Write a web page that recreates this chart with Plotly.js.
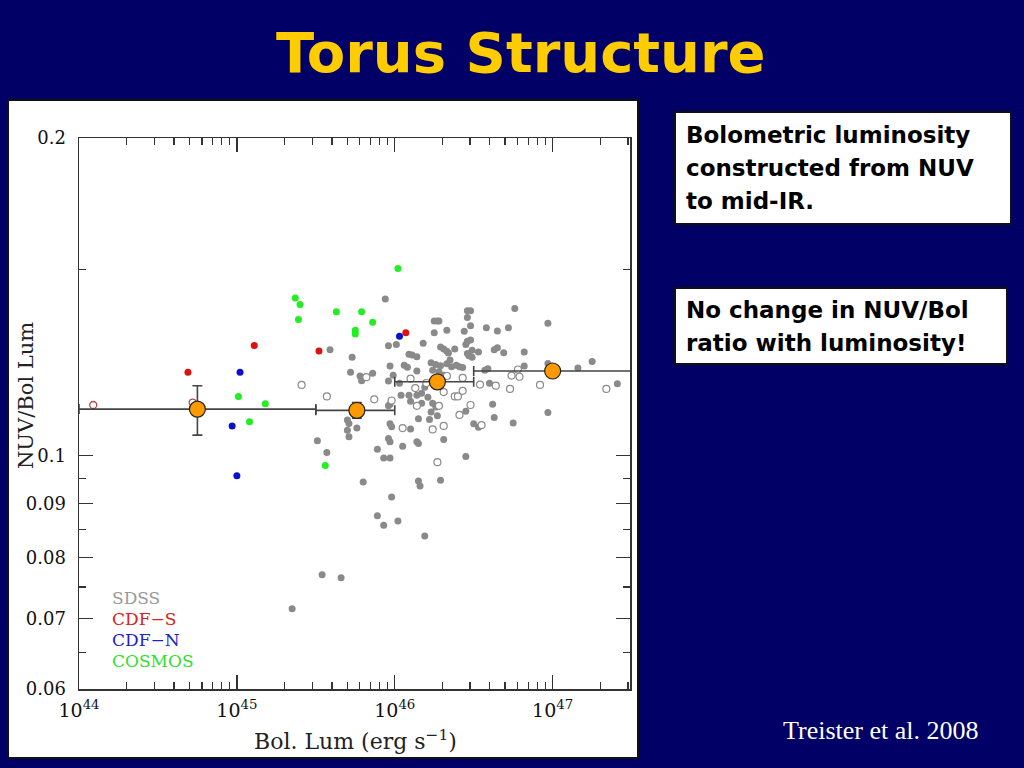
<!DOCTYPE html>
<html>
<head>
<meta charset="utf-8">
<script src="https://cdn.plot.ly/plotly-3.0.1.min.js"></script>
<style>
html,body{margin:0;padding:0;background:#000066;}
#chart{width:1024px;height:768px;}
</style>
</head>
<body>
<div id="chart"></div>
<script>
// ---- Data (x values are log10 of Bol. Lum in erg/s) ----
const sdssLogL = [45.94,45.59,45.73,45.72,45.78,45.79,45.86,45.96,46.01,45.97,45.99,45.96,46.03,46.06,46.08,46.09,46.11,46.14,46.14,46.18,
  46.25,46.25,46.27,46.28,46.33,46.29,46.31,46.33,46.34,46.38,46.45,46.46,46.48,46.44,46.48,46.46,46.46,46.48,46.46,46.47,
  46.49,46.49,46.53,46.58,46.65,46.72,46.76,46.97,46.63,46.65,46.69,46.82,46.82,46.57,46.59,46.97,47.16,47.25,47.41,46.60,
  46.62,46.63,46.75,46.97,46.50,46.53,46.45,46.45,46.29,46.31,46.22,46.15,46.24,46.26,46.27,46.23,46.17,46.10,46.04,46.10,
  46.14,46.15,46.05,45.97,45.98,45.96,45.97,45.89,45.93,45.97,46.15,46.16,45.98,45.80,45.89,45.93,46.02,46.19,45.51,45.57,
  45.70,45.71,45.70,45.71,45.76,45.96,45.97,45.54,45.66,45.35,46.09,46.14,46.43,46.23,46.26,46.29,46.33,46.36,46.39,46.41,
  46.35,46.24,46.28,46.31,46.17,46.21,46.19];
const sdssRatio = [0.1407,0.1259,0.1239,0.1199,0.1189,0.1177,0.1196,0.1270,0.1274,0.1215,0.1191,0.1176,0.1170,0.1217,0.1212,0.1247,0.1245,0.1240,0.1202,0.1277,
  0.1307,0.1341,0.1341,0.1341,0.1314,0.1267,0.1261,0.1255,0.1250,0.1261,0.1274,0.1283,0.1286,0.1311,0.1327,0.1351,0.1371,0.1371,0.1249,0.1243,
  0.1258,0.1239,0.1253,0.1321,0.1312,0.1321,0.1378,0.1334,0.1259,0.1265,0.1251,0.1253,0.1215,0.1204,0.1208,0.1222,0.1210,0.1227,0.1169,0.1170,
  0.1118,0.1086,0.1073,0.1098,0.1071,0.1063,0.1101,0.0997,0.0947,0.1035,0.1081,0.1083,0.1120,0.1111,0.1090,0.1099,0.1120,0.1125,0.1140,0.1059,
  0.1030,0.1026,0.1020,0.1071,0.1064,0.1037,0.1030,0.1013,0.0994,0.0994,0.0945,0.0935,0.0913,0.0943,0.0876,0.0858,0.0866,0.0838,0.1032,0.1006,
  0.1080,0.1072,0.1056,0.1041,0.1061,0.1114,0.1118,0.0770,0.0765,0.0715,0.1140,0.1140,0.1211,0.1224,0.1219,0.1216,0.1221,0.1213,0.1217,0.1213,
  0.1231,0.1204,0.1200,0.1191,0.1145,0.1135,0.1160];

const sdssOpenLogL = [45.41,45.57,45.82,45.87,45.98,46.05,46.10,46.13,46.14,46.24,46.28,46.31,46.31,46.38,46.40,46.43,46.41,46.48,46.43,46.33,
  46.27,46.54,46.64,46.73,46.74,46.79,46.78,46.92,47.34,46.55,46.20];
const sdssOpenRatio = [0.1166,0.1137,0.1186,0.1130,0.1127,0.1061,0.1182,0.1158,0.1114,0.1058,0.1114,0.1148,0.1066,0.1137,0.1137,0.1151,0.1092,0.1116,0.1184,0.1189,
  0.0985,0.1167,0.1164,0.1156,0.1190,0.1187,0.1206,0.1166,0.1156,0.1068,0.1171];

const cdfsLogL = [44.69,45.11,45.52,46.07];
const cdfsRatio = [0.1199,0.1271,0.1256,0.1307];
const cdfsOpenLogL = [44.09,44.72];
const cdfsOpenRatio = [0.1116,0.1122];

const cdfnLogL = [45.02,44.97,45.00,46.03];
const cdfnRatio = [0.1199,0.1066,0.0956,0.1297];

const cosmosLogL = [45.01,45.18,45.08,46.02,45.37,45.40,45.39,45.63,45.79,45.86,45.75,45.75,45.56];
const cosmosRatio = [0.1137,0.1119,0.1076,0.1504,0.1410,0.1390,0.1345,0.1368,0.1368,0.1337,0.1314,0.1303,0.0978];

// binned averages (orange)
const binLogL = [44.75,45.76,46.27,47.00];
const binRatio = [0.1106,0.1103,0.1174,0.1202];
const binLoLogL = [44.0,45.5,46.0,46.5];
const binHiLogL = [45.5,46.0,46.5,47.6];
const binErrUp = [0.0058,0.0019,0.0010,0.0010];
const binErrDown = [0.0061,0.0019,0.0010,0.0010];

// tick labels
const xTickVals = [1e44,1e45,1e46,1e47];
const xTickText = ['10<sup>44</sup>','10<sup>45</sup>','10<sup>46</sup>','10<sup>47</sup>'];
const xMinorVals = [2e44,3e44,4e44,5e44,6e44,7e44,8e44,9e44,2e45,3e45,4e45,5e45,6e45,7e45,8e45,9e45,
  2e46,3e46,4e46,5e46,6e46,7e46,8e46,9e46,2e47,3e47];
const yTickVals = [0.06,0.07,0.08,0.09,0.1,0.2];
const yTickText = ['0.06','0.07','0.08','0.09','0.1','0.2'];
const yMinorVals = [0.065,0.075,0.085,0.095,0.15];

const legendNames = ['SDSS','CDF\u2212S','CDF\u2212N','COSMOS'];
const legendColors = ['#9a9a9a','#dd2020','#2020cc','#30e030'];

// ---- build traces ----
const p10 = a => a.map(v => Math.pow(10, v));

const traces = [
  {x:p10(sdssLogL), y:sdssRatio, type:'scatter', mode:'markers',
   marker:{size:7, color:'#8a8a8a', line:{width:0}}},
  {x:p10(sdssOpenLogL), y:sdssOpenRatio, type:'scatter', mode:'markers',
   marker:{size:7, color:'#ffffff', line:{width:1.2, color:'#8a8a8a'}}},
  {x:p10(cdfsOpenLogL), y:cdfsOpenRatio, type:'scatter', mode:'markers',
   marker:{size:7, color:'#ffffff', line:{width:1.3, color:'#b84848'}}},
  {x:p10(cosmosLogL), y:cosmosRatio, type:'scatter', mode:'markers',
   marker:{size:7, color:'#22ee22', line:{width:0}}},
  {x:p10(cdfsLogL), y:cdfsRatio, type:'scatter', mode:'markers',
   marker:{size:7, color:'#e01010', line:{width:0}}},
  {x:p10(cdfnLogL), y:cdfnRatio, type:'scatter', mode:'markers',
   marker:{size:7, color:'#0a10cc', line:{width:0}}}
];

const bx = p10(binLogL), lo = p10(binLoLogL), hi = p10(binHiLogL);
traces.push({
  x: bx, y: binRatio, type:'scatter', mode:'markers',
  marker:{size:16, color:'#ff9900', line:{width:1.2, color:'#222'}},
  error_x:{type:'data', symmetric:false,
    array: bx.map((v,i)=>hi[i]-v), arrayminus: bx.map((v,i)=>v-lo[i]),
    color:'#444', thickness:1.6, width:5},
  error_y:{type:'data', symmetric:false, array: binErrUp, arrayminus: binErrDown,
    color:'#444', thickness:1.6, width:5}
});

// ---- layout helpers (pixel -> paper) ----
const L = 79, R = 630, T = 138, B = 689;
const W = R - L, H = B - T;
const px = v => (v - L) / W;
const py = v => (B - v) / H;

const ann = [];
// title
ann.push({x:px(521), y:py(53), xref:'paper', yref:'paper', text:'Torus Structure', showarrow:false,
  xanchor:'center', yanchor:'middle', font:{family:'DejaVu Sans', size:56, color:'#ffcc00', weight:'bold'}});

// text boxes
const box1 = ['Bolometric luminosity','constructed from NUV','to mid-IR.'];
const box2 = ['No change in NUV/Bol','ratio with luminosity!'];
box1.forEach((t,i)=>ann.push({x:px(684), y:py(135 + i*33), xref:'paper', yref:'paper', text:t, showarrow:false,
  xanchor:'left', yanchor:'middle', font:{family:'DejaVu Sans', size:23, color:'#000', weight:'bold'}}));
box2.forEach((t,i)=>ann.push({x:px(684), y:py(310 + i*33), xref:'paper', yref:'paper', text:t, showarrow:false,
  xanchor:'left', yanchor:'middle', font:{family:'DejaVu Sans', size:23, color:'#000', weight:'bold'}}));

// citation
ann.push({x:px(880), y:py(730), xref:'paper', yref:'paper', text:'Treister et al. 2008', showarrow:false,
  xanchor:'center', yanchor:'middle', font:{family:'Liberation Serif', size:26, color:'#ffffff'}});

// in-plot legend text
legendNames.forEach((t,i)=>ann.push({x:px(110), y:py(598 + i*21), xref:'paper', yref:'paper', text:t, showarrow:false,
  xanchor:'left', yanchor:'middle', font:{family:'DejaVu Serif', size:17, color:legendColors[i]}}));

// axis titles
ann.push({x:px(355), y:py(740), xref:'paper', yref:'paper', text:'Bol. Lum (erg s<sup>\u22121</sup>)', showarrow:false,
  xanchor:'center', yanchor:'middle', font:{family:'DejaVu Serif', size:22, color:'#222'}});
ann.push({x:px(26), y:py(396), xref:'paper', yref:'paper', text:'NUV/Bol Lum', showarrow:false, textangle:-90,
  xanchor:'center', yanchor:'middle', font:{family:'DejaVu Serif', size:21, color:'#222'}});

const shapes = [
  {type:'rect', xref:'paper', yref:'paper', x0:px(8), x1:px(638), y0:py(100), y1:py(758),
   fillcolor:'#ffffff', line:{color:'#111', width:2}, layer:'below'},
  {type:'rect', xref:'paper', yref:'paper', x0:px(675), x1:px(1011), y0:py(112), y1:py(224),
   fillcolor:'#ffffff', line:{color:'#111', width:2}, layer:'below'},
  {type:'rect', xref:'paper', yref:'paper', x0:px(675), x1:px(1007), y0:py(288), y1:py(364),
   fillcolor:'#ffffff', line:{color:'#111', width:2}, layer:'below'}
];

const axisCommon = {
  ticks:'inside', ticklen:14, tickwidth:1.3, tickcolor:'#333',
  showline:true, linecolor:'#333', linewidth:1.5, mirror:'allticks',
  showgrid:false, zeroline:false, tickmode:'array', fixedrange:true
};

const layout = {
  width:1024, height:768,
  margin:{l:L, r:1024-R, t:T, b:768-B, pad:0},
  paper_bgcolor:'#000066', plot_bgcolor:'#ffffff',
  showlegend:false,
  xaxis:Object.assign({}, axisCommon, {
    type:'log', range:[44, 47.49], tickvals:xTickVals, ticktext:xTickText,
    tickfont:{family:'DejaVu Serif', size:19, color:'#111'}, ticklabelstandoff:4,
    minor:{tickvals:xMinorVals, ticks:'inside', ticklen:7, tickwidth:1.3, tickcolor:'#333', showgrid:false}
  }),
  yaxis:Object.assign({}, axisCommon, {
    type:'log', range:[Math.log10(0.06), Math.log10(0.2)], tickvals:yTickVals, ticktext:yTickText,
    tickfont:{family:'DejaVu Serif', size:18, color:'#111'}, ticklabelstandoff:8,
    minor:{tickvals:yMinorVals, ticks:'inside', ticklen:7, tickwidth:1.3, tickcolor:'#333', showgrid:false}
  }),
  annotations:ann,
  shapes:shapes
};

Plotly.newPlot('chart', traces, layout, {displayModeBar:false, staticPlot:true});
</script>
</body>
</html>
